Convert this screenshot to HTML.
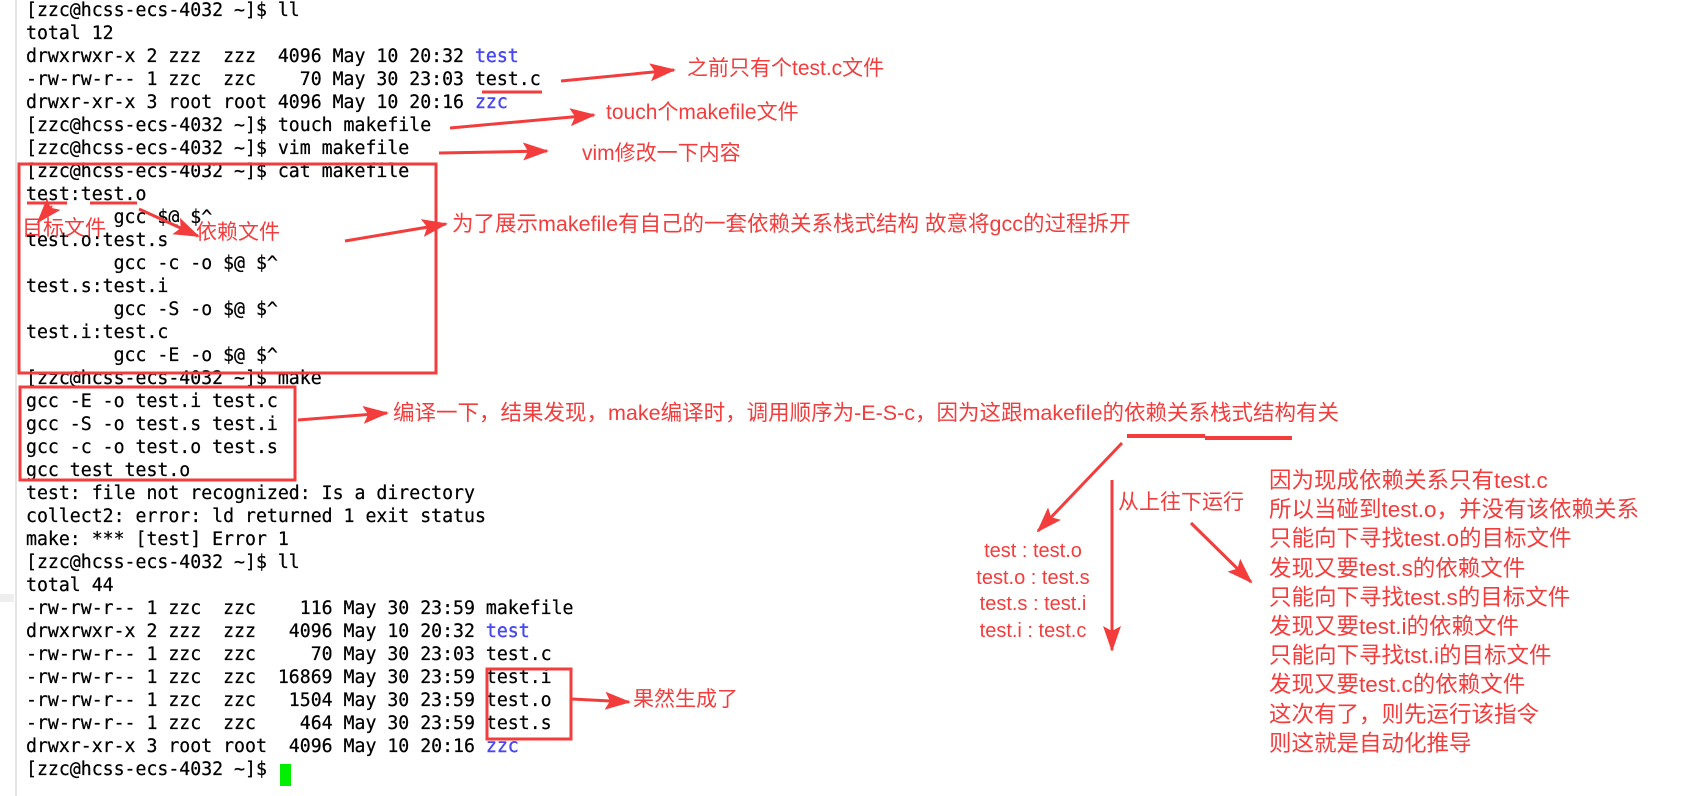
<!DOCTYPE html>
<html><head><meta charset="utf-8">
<style>
html,body{margin:0;padding:0;background:#fff;width:1682px;height:796px;overflow:hidden;position:relative}
.t{position:absolute;left:26px;font-family:"DejaVu Sans Mono","Liberation Mono",monospace;font-size:18.2px;color:#000;white-space:pre;line-height:23px;-webkit-text-stroke:0.25px #000}
.b{color:#4848f0;-webkit-text-stroke:0.4px #4848f0}
.a{position:absolute;font-family:"Liberation Sans","Noto Sans CJK SC",sans-serif;color:#f33c3c;white-space:nowrap;line-height:1}
svg{position:absolute;left:0;top:0}
</style></head><body>
<div style="position:absolute;left:15px;top:0;width:2px;height:796px;background:#e4e4e4"></div>
<div style="position:absolute;left:0;top:594px;width:14px;height:8px;background:#eee"></div>
<div class="t" style="top:-1px">[zzc@hcss-ecs-4032 ~]$ ll
total 12
drwxrwxr-x 2 zzz  zzz  4096 May 10 20:32 <span class="b">test</span>
-rw-rw-r-- 1 zzc  zzc    70 May 30 23:03 test.c
drwxr-xr-x 3 root root 4096 May 10 20:16 <span class="b">zzc</span>
[zzc@hcss-ecs-4032 ~]$ touch makefile
[zzc@hcss-ecs-4032 ~]$ vim makefile
[zzc@hcss-ecs-4032 ~]$ cat makefile
test:test.o
        gcc $@ $^
test.o:test.s
        gcc -c -o $@ $^
test.s:test.i
        gcc -S -o $@ $^
test.i:test.c
        gcc -E -o $@ $^
[zzc@hcss-ecs-4032 ~]$ make
gcc -E -o test.i test.c
gcc -S -o test.s test.i
gcc -c -o test.o test.s
gcc test test.o
test: file not recognized: Is a directory
collect2: error: ld returned 1 exit status
make: *** [test] Error 1
[zzc@hcss-ecs-4032 ~]$ ll
total 44
-rw-rw-r-- 1 zzc  zzc    116 May 30 23:59 makefile
drwxrwxr-x 2 zzz  zzz   4096 May 10 20:32 <span class="b">test</span>
-rw-rw-r-- 1 zzc  zzc     70 May 30 23:03 test.c
-rw-rw-r-- 1 zzc  zzc  16869 May 30 23:59 test.i
-rw-rw-r-- 1 zzc  zzc   1504 May 30 23:59 test.o
-rw-rw-r-- 1 zzc  zzc    464 May 30 23:59 test.s
drwxr-xr-x 3 root root  4096 May 10 20:16 <span class="b">zzc</span>
[zzc@hcss-ecs-4032 ~]$ </div>
<div style="position:absolute;left:280px;top:764px;width:11px;height:22px;background:#00ee00"></div>

<svg width="1682" height="796">
<defs>
<marker id="h" markerUnits="userSpaceOnUse" markerWidth="26" markerHeight="18" refX="24" refY="9" orient="auto">
<polygon points="0,0 26,9 0,18 5,9" fill="#f33c3c"/></marker>
</defs>
<g fill="none" stroke="#f33c3c" stroke-width="3">
<rect x="19" y="164" width="417" height="209"/>
<rect x="20" y="387" width="275" height="93"/>
<rect x="487" y="669" width="84" height="70"/>
</g>
<g stroke="#f33c3c" stroke-width="3">
<line x1="482" y1="92" x2="542" y2="92"/>
<line x1="27" y1="203" x2="67" y2="203"/>
<line x1="90" y1="203" x2="137" y2="203"/>
<line x1="1127" y1="436" x2="1205" y2="436" stroke-width="4"/>
<line x1="1205" y1="438" x2="1292" y2="438" stroke-width="4"/>
</g>
<g stroke="#f33c3c" stroke-width="3" marker-end="url(#h)">
<line x1="561" y1="81" x2="674" y2="70"/>
<line x1="450" y1="128" x2="594" y2="115"/>
<line x1="439" y1="153" x2="547" y2="151"/>
<line x1="52" y1="206" x2="38" y2="222" stroke-width="2"/>
<line x1="139" y1="209" x2="198" y2="236"/>
<line x1="345" y1="241" x2="446" y2="224"/>
<line x1="298" y1="420" x2="387" y2="413"/>
<line x1="1122" y1="443" x2="1038" y2="531"/>
<line x1="1112" y1="480" x2="1112" y2="650"/>
<line x1="1191" y1="523" x2="1251" y2="582"/>
<line x1="572" y1="699" x2="629" y2="702"/>
</g>
</svg>

<div class="a" style="left:687px;top:58px;font-size:21px">之前只有个test.c文件</div>
<div class="a" style="left:606px;top:102px;font-size:21px">touch个makefile文件</div>
<div class="a" style="left:582px;top:143px;font-size:21px">vim修改一下内容</div>
<div class="a" style="left:22px;top:218px;font-size:21px">目标文件</div>
<div class="a" style="left:196px;top:222px;font-size:21px">依赖文件</div>
<div class="a" style="left:452px;top:214px;font-size:21.5px">为了展示makefile有自己的一套依赖关系栈式结构 故意将gcc的过程拆开</div>
<div class="a" style="left:393px;top:403px;font-size:21.5px">编译一下，结果发现，make编译时，调用顺序为-E-S-c，因为这跟makefile的依赖关系栈式结构有关</div>
<div class="a" style="left:1118px;top:492px;font-size:21px">从上往下运行</div>
<div class="a" style="left:968px;top:538px;font-size:20px;width:130px;text-align:center;line-height:26.5px">test : test.o<br>test.o : test.s<br>test.s : test.i<br>test.i : test.c</div>
<div class="a" style="left:1269px;top:466px;font-size:22.5px;line-height:29.2px">因为现成依赖关系只有test.c<br>所以当碰到test.o，并没有该依赖关系<br>只能向下寻找test.o的目标文件<br>发现又要test.s的依赖文件<br>只能向下寻找test.s的目标文件<br>发现又要test.i的依赖文件<br>只能向下寻找tst.i的目标文件<br>发现又要test.c的依赖文件<br>这次有了，则先运行该指令<br>则这就是自动化推导</div>
<div class="a" style="left:633px;top:689px;font-size:21px">果然生成了</div>
</body></html>
